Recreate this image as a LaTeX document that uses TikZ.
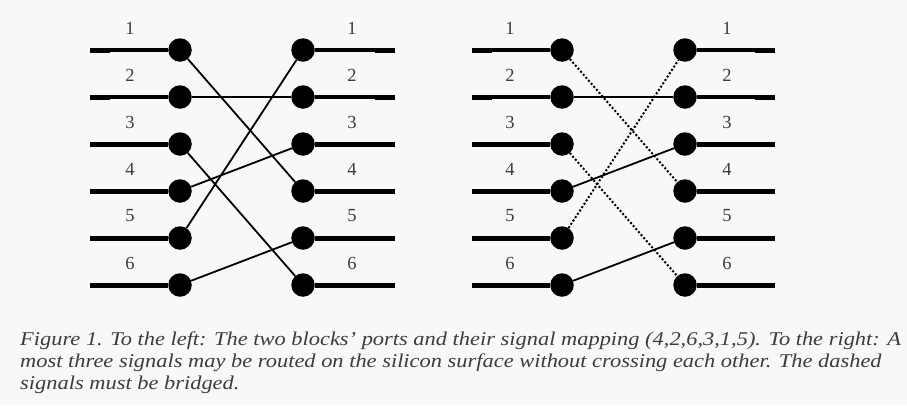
\documentclass[tikz,border=0pt]{standalone}
\usepackage{fontspec}
\setmainfont{Liberation Serif}
\definecolor{paper}{RGB}{248,248,248}
\definecolor{ink}{RGB}{60,60,60}

\begin{document}
\begin{tikzpicture}[x=1pt,y=-1pt]
\tikzstyle{dot}=[circle,fill=black,inner sep=0pt,minimum size=23.5pt]
\tikzstyle{port}=[black,line width=5pt]
\tikzstyle{thinport}=[black,line width=3.2pt]
\tikzstyle{wire}=[black,line width=1.8pt]
\tikzstyle{bridge}=[black,line width=2pt,dash pattern=on 2pt off 2pt]
\tikzstyle{num}=[ink,font=\fontsize{18.5}{18}\selectfont,inner sep=0pt]
\tikzstyle{caption}=[ink,anchor=base west,inner sep=0pt,xscale=1.15,
  font=\fontsize{19.5}{22}\selectfont\itshape]
\fill [paper] (0,0) rectangle (907,405);
\useasboundingbox (0,0) rectangle (907,405);
% left picture: the two blocks
\node [dot] (a1) at (180,50) {};
\node [dot] (a2) at (180,97) {};
\node [dot] (a3) at (180,144) {};
\node [dot] (a4) at (180,191) {};
\node [dot] (a5) at (180,238) {};
\node [dot] (a6) at (180,285) {};
\node [dot] (b1) at (303,50) {};
\node [dot] (b2) at (303,97) {};
\node [dot] (b3) at (303,144) {};
\node [dot] (b4) at (303,191) {};
\node [dot] (b5) at (303,238) {};
\node [dot] (b6) at (303,285) {};
\coordinate (ea1) at (90,50);
\coordinate (ea2) at (90,97);
\coordinate (ea3) at (90,144);
\coordinate (ea4) at (90,191);
\coordinate (ea5) at (90,238);
\coordinate (ea6) at (90,285);
\coordinate (eb1) at (395,50);
\coordinate (eb2) at (395,97);
\coordinate (eb3) at (395,144);
\coordinate (eb4) at (395,191);
\coordinate (eb5) at (395,238);
\coordinate (eb6) at (395,285);
\draw [thinport] (ea1) -- (a1); \draw [port] (ea1) -- ++(20,0);
\draw [thinport] (ea2) -- (a2); \draw [port] (ea2) -- ++(20,0);
\draw [port] (ea3) -- (a3);
\draw [port] (ea4) -- (a4);
\draw [port] (ea5) -- (a5);
\draw [port] (ea6) -- (a6);
\draw [thinport] (b1) -- (eb1); \draw [port] (eb1) -- ++(-20,0);
\draw [thinport] (b2) -- (eb2); \draw [port] (eb2) -- ++(-20,0);
\draw [port] (b3) -- (eb3);
\draw [port] (b4) -- (eb4);
\draw [port] (b5) -- (eb5);
\draw [port] (b6) -- (eb6);
\node [num] (na1) at (130,28) {1};
\node [num] (na2) at (130,75) {2};
\node [num] (na3) at (130,122) {3};
\node [num] (na4) at (130,169) {4};
\node [num] (na5) at (130,216) {5};
\node [num] (na6) at (130,263) {6};
\node [num] (nb1) at (352,28) {1};
\node [num] (nb2) at (352,75) {2};
\node [num] (nb3) at (352,122) {3};
\node [num] (nb4) at (352,169) {4};
\node [num] (nb5) at (352,216) {5};
\node [num] (nb6) at (352,263) {6};
% signal mapping (4,2,6,3,1,5)
\draw [wire] (a1) -- (b4);
\draw [wire,line width=1.5pt] (a2) -- (b2);
\draw [wire] (a3) -- (b6);
\draw [wire] (a4) -- (b3);
\draw [wire] (a5) -- (b1);
\draw [wire] (a6) -- (b5);
% right picture: routed and bridged signals
\node [dot] (c1) at (562,50) {};
\node [dot] (c2) at (562,97) {};
\node [dot] (c3) at (562,144) {};
\node [dot] (c4) at (562,191) {};
\node [dot] (c5) at (562,238) {};
\node [dot] (c6) at (562,285) {};
\node [dot] (d1) at (685,50) {};
\node [dot] (d2) at (685,97) {};
\node [dot] (d3) at (685,144) {};
\node [dot] (d4) at (685,191) {};
\node [dot] (d5) at (685,238) {};
\node [dot] (d6) at (685,285) {};
\coordinate (ec1) at (472,50);
\coordinate (ec2) at (472,97);
\coordinate (ec3) at (472,144);
\coordinate (ec4) at (472,191);
\coordinate (ec5) at (472,238);
\coordinate (ec6) at (472,285);
\coordinate (ed1) at (775,50);
\coordinate (ed2) at (775,97);
\coordinate (ed3) at (775,144);
\coordinate (ed4) at (775,191);
\coordinate (ed5) at (775,238);
\coordinate (ed6) at (775,285);
\draw [thinport] (ec1) -- (c1); \draw [port] (ec1) -- ++(20,0);
\draw [thinport] (ec2) -- (c2); \draw [port] (ec2) -- ++(20,0);
\draw [port] (ec3) -- (c3);
\draw [port] (ec4) -- (c4);
\draw [port] (ec5) -- (c5);
\draw [port] (ec6) -- (c6);
\draw [thinport] (d1) -- (ed1); \draw [port] (ed1) -- ++(-20,0);
\draw [thinport] (d2) -- (ed2); \draw [port] (ed2) -- ++(-20,0);
\draw [port] (d3) -- (ed3);
\draw [port] (d4) -- (ed4);
\draw [port] (d5) -- (ed5);
\draw [port] (d6) -- (ed6);
\node [num] (nc1) at (510,28) {1};
\node [num] (nc2) at (510,75) {2};
\node [num] (nc3) at (510,122) {3};
\node [num] (nc4) at (510,169) {4};
\node [num] (nc5) at (510,216) {5};
\node [num] (nc6) at (510,263) {6};
\node [num] (nd1) at (727,28) {1};
\node [num] (nd2) at (727,75) {2};
\node [num] (nd3) at (727,122) {3};
\node [num] (nd4) at (727,169) {4};
\node [num] (nd5) at (727,216) {5};
\node [num] (nd6) at (727,263) {6};
\draw [bridge] (c1) -- (d4);
\draw [wire,line width=1.5pt] (c2) -- (d2);
\draw [bridge] (c3) -- (d6);
\draw [wire] (c4) -- (d3);
\draw [bridge] (c5) -- (d1);
\draw [wire] (c6) -- (d5);
% caption
\node [caption] (cap1) at (20,345) {Figure 1. To the left: The two blocks\char"27\ ports and their signal mapping (4,2,6,3,1,5). To the right: A};
\node [caption] (cap2) at (20,367) {most three signals may be routed on the silicon surface without crossing each other. The dashed};
\node [caption] (cap3) at (20,389) {signals must be bridged.};
\end{tikzpicture}
\end{document}
